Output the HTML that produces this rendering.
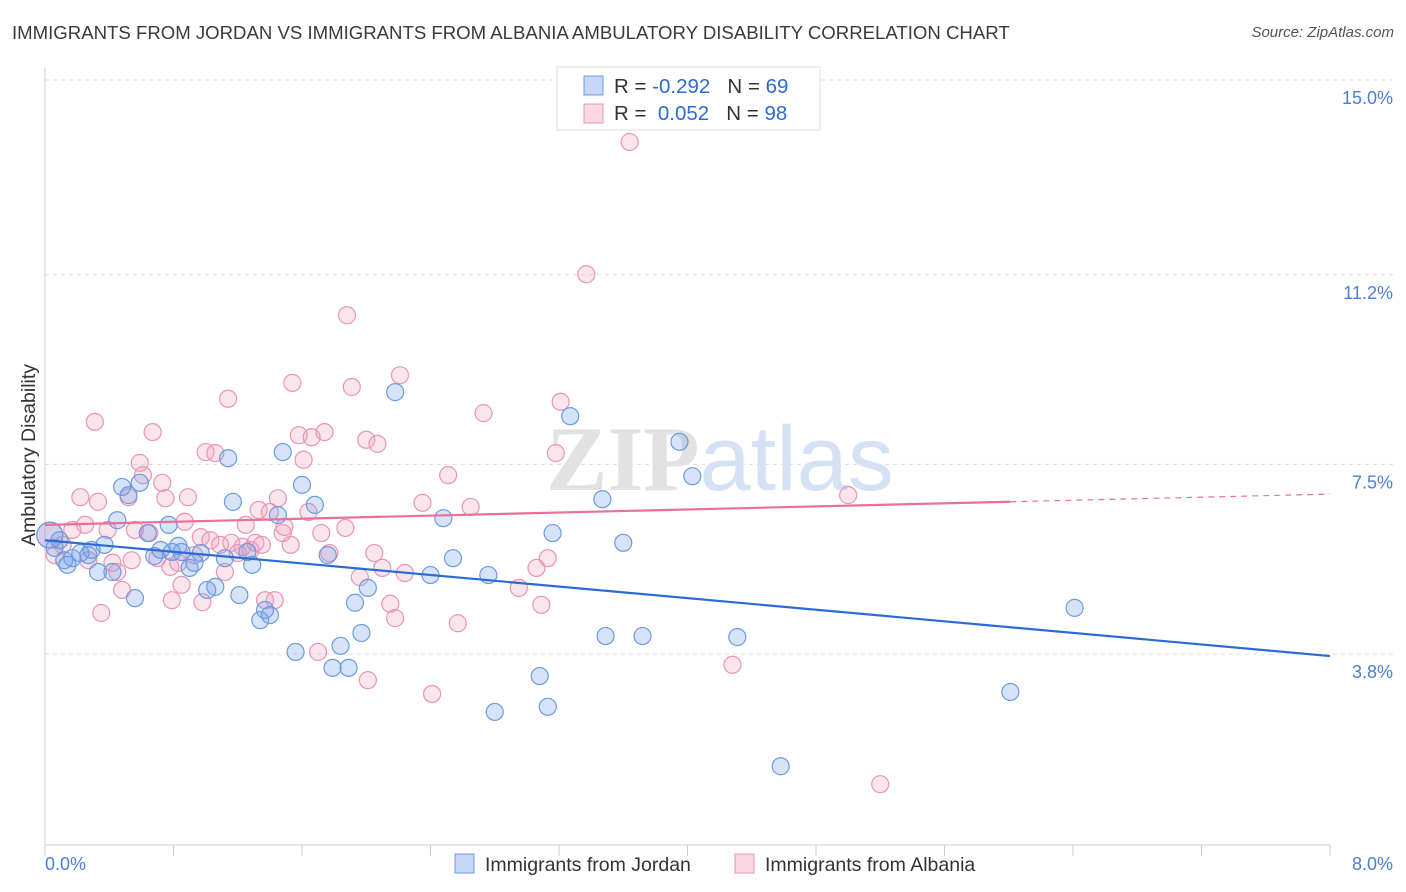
<!DOCTYPE html>
<html><head><meta charset="utf-8">
<style>
body{margin:0;background:#fff;font-family:"Liberation Sans",sans-serif;}
#wrap{position:relative;width:1406px;height:892px;overflow:hidden;}
.title{position:absolute;left:12px;top:22px;font-size:18.6px;color:#3a3a3a;}
.source{position:absolute;right:12px;top:24px;font-size:15px;color:#555;font-style:italic;}
</style></head>
<body>
<div id="wrap">
<div class="title">IMMIGRANTS FROM JORDAN VS IMMIGRANTS FROM ALBANIA AMBULATORY DISABILITY CORRELATION CHART</div>
<div class="source">Source: ZipAtlas.com</div>
<svg id="chart" width="1406" height="892" style="position:absolute;left:0;top:0"></svg>
</div>
<script>
const jordanX=[.03,.06,.09,.12,.14,.17,.22,.27,.29,.33,.37,.42,.45,.48,.52,.56,.59,.64,.68,.72,.77,.79,.83,.85,.90,.93,.97,1.01,1.06,1.12,1.14,1.17,1.21,1.26,1.29,1.34,1.37,1.40,1.45,1.48,1.56,1.60,1.68,1.76,1.79,1.84,1.89,1.93,1.97,2.01,2.18,2.40,2.48,2.54,2.76,2.80,3.08,3.13,3.16,3.27,3.47,3.49,3.60,3.72,3.95,4.03,4.31,4.58,6.01,6.41];
const jordanY=[6.12,5.87,6.02,5.63,5.54,5.67,5.77,5.73,5.83,5.40,5.93,5.40,6.41,7.06,6.90,4.89,7.14,6.16,5.71,5.83,6.32,5.79,5.91,5.79,5.48,5.58,5.77,5.05,5.11,5.67,7.62,6.77,4.95,5.79,5.54,4.46,4.66,4.56,6.51,7.74,3.84,7.10,6.71,5.73,3.53,3.96,3.53,4.80,4.21,5.09,8.91,5.34,6.45,5.67,5.34,2.67,3.37,2.77,6.16,8.44,6.82,4.15,5.97,4.15,7.94,7.27,4.13,1.61,3.06,4.70];
const albaniaX=[.03,.06,.11,.17,.22,.25,.27,.31,.33,.35,.39,.42,.45,.48,.52,.54,.56,.59,.61,.65,.67,.70,.73,.75,.78,.79,.83,.85,.87,.89,.93,.97,.98,1.00,1.03,1.06,1.09,1.12,1.14,1.16,1.20,1.23,1.25,1.28,1.31,1.33,1.35,1.37,1.40,1.43,1.45,1.48,1.49,1.53,1.54,1.58,1.61,1.64,1.66,1.70,1.72,1.74,1.77,1.87,1.88,1.91,1.96,2.00,2.01,2.05,2.07,2.10,2.15,2.18,2.21,2.24,2.35,2.41,2.51,2.57,2.65,2.73,2.95,3.06,3.09,3.13,3.18,3.21,3.37,3.64,4.28,5.00,5.20];
const albaniaY=[6.12,5.73,5.93,6.22,6.86,6.32,5.63,8.33,6.77,4.60,6.22,5.58,5.40,5.05,6.86,5.63,6.22,7.53,7.29,6.16,8.13,5.67,7.14,6.84,5.50,4.85,5.58,5.15,6.38,6.86,5.73,6.08,4.81,7.74,6.02,7.72,5.93,5.40,8.78,5.97,5.77,5.89,6.32,5.83,5.97,6.61,5.93,4.85,6.57,4.85,6.84,6.16,6.28,5.93,9.09,8.07,7.59,6.57,8.03,3.84,6.16,8.13,5.77,6.26,10.41,9.01,5.30,7.98,3.29,5.77,7.90,5.48,4.78,4.50,9.24,5.38,6.75,3.02,7.29,4.40,6.67,8.50,5.09,5.48,4.76,5.67,7.72,8.72,11.21,13.79,3.59,6.90,1.26];
// trend line [intercept, slope] as shown in the chart
const jordanTrend=[6.02,-0.2825];
const albaniaTrend=[6.32,0.075];
const albaniaSolidEnd=[6.01];
const yTicks=[15.0,11.2,7.5,3.8];
const yTickLabels=["15.0%","11.2%","7.5%","3.8%"];
const xEndLabels=["0.0%","8.0%"];

const NS="http://www.w3.org/2000/svg";
const svg=document.getElementById('chart');
const X0=45,X1=1330,Y15=80,PPU=51.25;
const xs=v=>X0+(v/8)*(X1-X0);
const ys=v=>Y15+(15-v)*PPU;
function mk(tag,attrs,parent){const e=document.createElementNS(NS,tag);for(const k in attrs)e.setAttribute(k,attrs[k]);(parent||svg).appendChild(e);return e;}

yTicks.forEach((t,i)=>{
  const g=mk('line',{x1:X0,x2:1395,y1:ys(t),y2:ys(t),stroke:'#dcdcdc','stroke-dasharray':'4,4'});
  
  
  const tx=mk('text',{x:1393,y:ys(t)+24,'text-anchor':'end','font-size':18,fill:'#4a7fd6'});
  tx.textContent=yTickLabels[i];
  
  
});
const ya=mk('line',{x1:X0,x2:X0,y1:68,y2:845,stroke:'#ccc'});


const xa=mk('line',{x1:X0,x2:X1,y1:845,y2:845,stroke:'#ccc'});


for(let i=0;i<=10;i++){
  const t=mk('line',{x1:xs(i*0.8),x2:xs(i*0.8),y1:845,y2:856,stroke:'#ccc'});
  
  
}
[[0,'start',45],[1,'end',1393]].forEach(([i,a,x])=>{
  const t=mk('text',{x:x,y:870,'text-anchor':a,'font-size':18,fill:'#4a7fd6'});
  t.textContent=xEndLabels[i];
  
  
});
const yt=mk('text',{x:0,y:0,transform:'translate(35,455) rotate(-90)','text-anchor':'middle','font-size':19.5,fill:'#333'});
yt.textContent='Ambulatory Disability';


const wm=mk('text',{x:720,y:490,'text-anchor':'middle','font-size':92,'font-family':'Liberation Serif, serif'});
wm.innerHTML='<tspan fill="#e2e2e2" font-weight="bold">ZIP</tspan><tspan fill="#d5e2f5" font-family="Liberation Sans, sans-serif">atlas</tspan>';



function pts(xd,yd,stroke,fill,name){
  xd.forEach((x,i)=>{
    const c=mk('circle',{cx:xs(x),cy:ys(yd[i]),r:(i===0?13:8.5),fill:fill,stroke:stroke,'stroke-width':1.2});
    
    
  });
}
pts(albaniaX,albaniaY,'#e995b3','rgba(242,160,190,0.28)','albania-point');
pts(jordanX,jordanY,'#6b9be0','rgba(110,155,230,0.28)','jordan-point');

const [ja,jb]=jordanTrend;
const jl=mk('line',{x1:xs(0),y1:ys(ja),x2:xs(8),y2:ys(ja+jb*8),stroke:'#2c6ad6','stroke-width':2.2});


const [aa,ab]=albaniaTrend;
const xe=albaniaSolidEnd[0];
const al=mk('line',{x1:xs(0),y1:ys(aa),x2:xs(xe),y2:ys(aa+ab*xe),stroke:'#e8709a','stroke-width':2.2});


const ad=mk('line',{x1:xs(xe),y1:ys(aa+ab*xe),x2:xs(8),y2:ys(aa+ab*8),stroke:'#e8709a','stroke-width':1.2,'stroke-dasharray':'6,5'});



const lg=mk('g',{});


mk('rect',{x:557,y:67,width:263,height:63,fill:'#fff',stroke:'#ddd'},lg);
mk('rect',{x:584,y:76,width:19,height:19,fill:'rgba(110,155,230,0.4)',stroke:'#6b9be0'},lg);
mk('rect',{x:584,y:104,width:19,height:19,fill:'rgba(242,160,190,0.4)',stroke:'#e995b3'},lg);
const l1=mk('text',{x:614,y:93,'font-size':20.5,fill:'#333'},lg);
l1.innerHTML='R = <tspan fill="#2c6ad6">-0.292</tspan>&#160;&#160;&#160;N = <tspan fill="#2c6ad6">69</tspan>';


const l2=mk('text',{x:614,y:120,'font-size':20.5,fill:'#333'},lg);
l2.innerHTML='R = &#160;<tspan fill="#2c6ad6">0.052</tspan>&#160;&#160;&#160;N = <tspan fill="#2c6ad6">98</tspan>';



const bl=mk('g',{});


const b1=mk('rect',{x:455,y:854,width:19,height:19,fill:'rgba(110,155,230,0.4)',stroke:'#6b9be0'},bl);


const t1=mk('text',{x:485,y:871,'font-size':19.5,fill:'#333'},bl);t1.textContent='Immigrants from Jordan';


const b2=mk('rect',{x:735,y:854,width:19,height:19,fill:'rgba(242,160,190,0.4)',stroke:'#e995b3'},bl);


const t2=mk('text',{x:765,y:871,'font-size':19.5,fill:'#333'},bl);t2.textContent='Immigrants from Albania';


</script>
</body></html>
